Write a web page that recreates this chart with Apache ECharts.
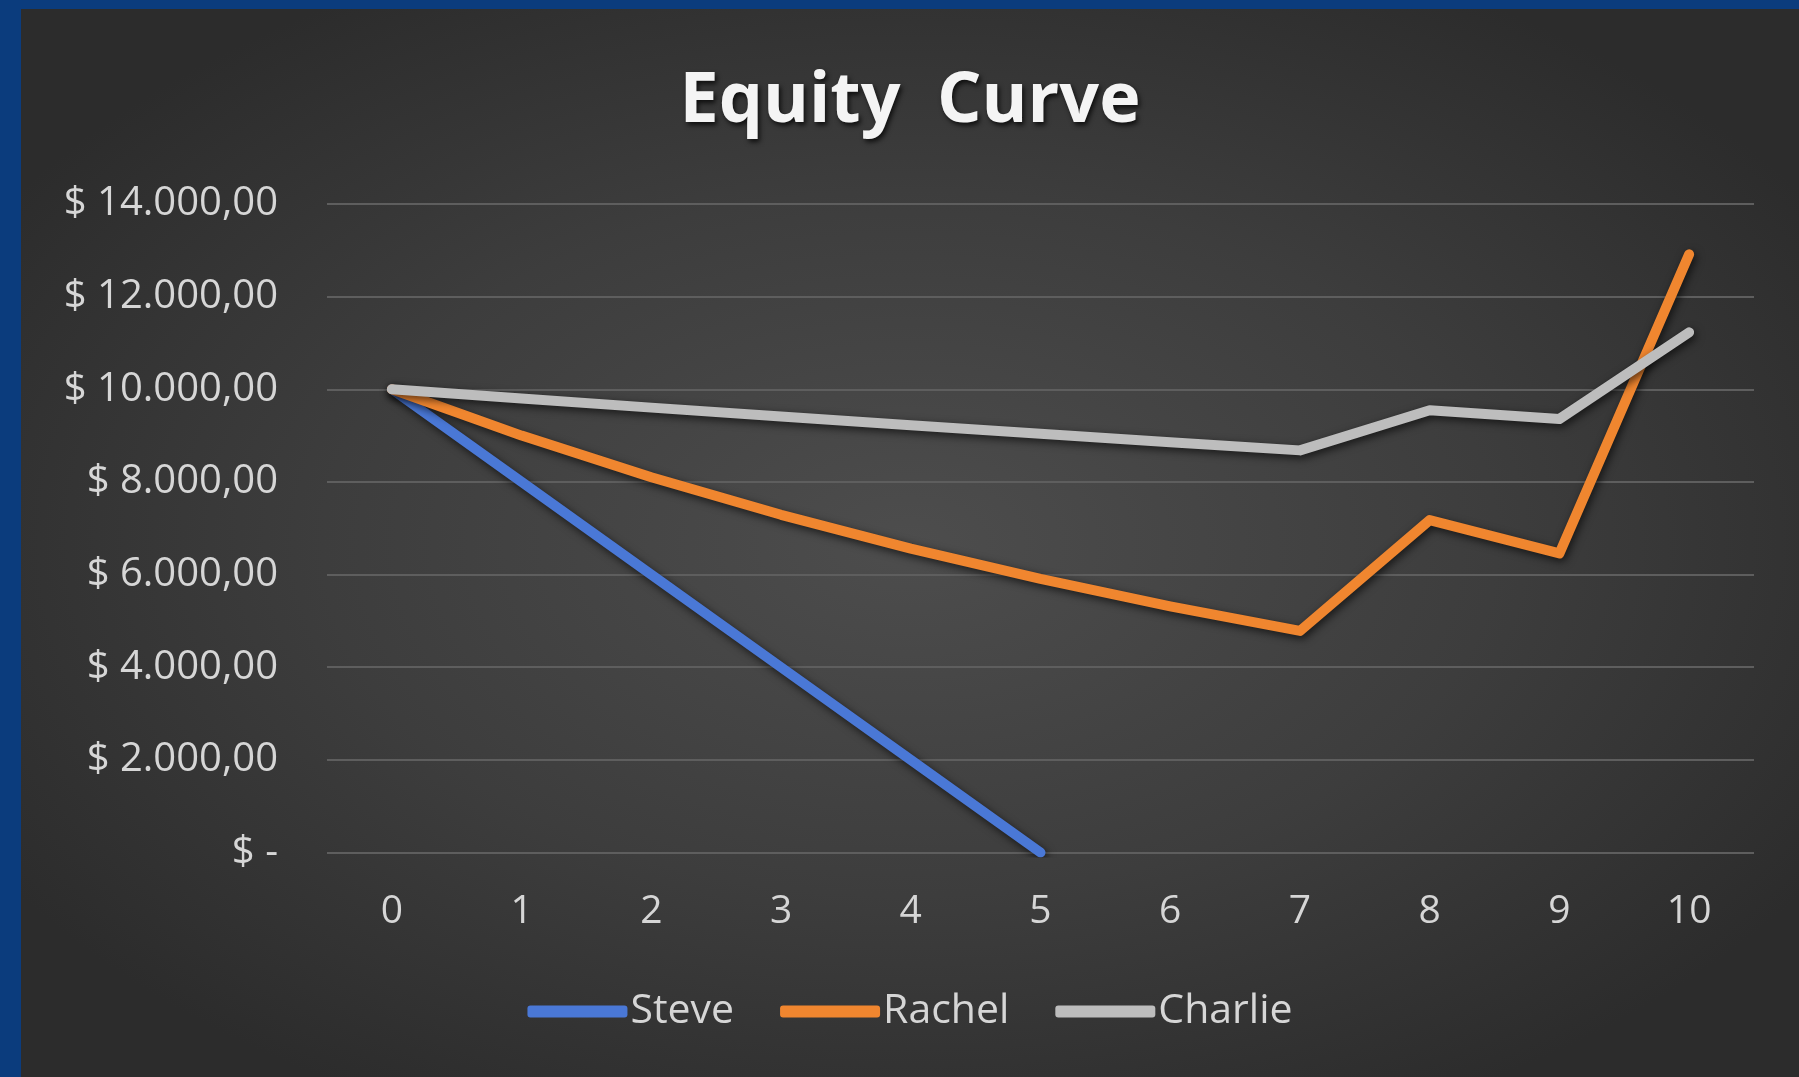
<!DOCTYPE html>
<html>
<head>
<meta charset="utf-8">
<script src="https://cdn.jsdelivr.net/npm/echarts@6/dist/echarts.min.js"></script>
<style>
  html, body { margin: 0; padding: 0; width: 1799px; height: 1077px; background: #0b3c7d; overflow: hidden; }
  #chart {
    position: absolute; left: 21px; top: 9px; width: 1778px; height: 1068px;
    background: radial-gradient(ellipse 60% 60% at 50% 50%, #4d4d4d 0%, #3d3d3d 55%, #2c2c2c 100%);
  }
</style>
</head>
<body>
<div id="chart"></div>
<script>
const titleText = 'Equity  Curve';
const categories = ['0', '1', '2', '3', '4', '5', '6', '7', '8', '9', '10'];
const steve = [10000, 8000, 6000, 4000, 2000, 0, null, null, null, null, null];
const rachel = [10000, 9000, 8100, 7290, 6561, 5905, 5314, 4783, 7175, 6457, 12914];
const charlie = [10000, 9800, 9604, 9412, 9224, 9039, 8858, 8681, 9549, 9358, 11230];
const seriesNames = ['Steve', 'Rachel', 'Charlie'];
const seriesColors = ['#4a78d6', '#f0862f', '#bdbdbd'];
const yMin = 0, yMax = 14000, yStep = 2000;

function fmtMoney(v) {
  if (v === 0) return '$ -';
  const s = Math.round(v).toString().replace(/\B(?=(\d{3})+(?!\d))/g, '.');
  return '$ ' + s + ',00';
}

const chart = echarts.init(document.getElementById('chart'), null, { renderer: 'canvas' });
const font = '"Open Sans", "Liberation Sans", sans-serif';
const mk = (name, data, color) => ({
  name: name,
  type: 'line',
  data: data,
  symbol: 'none',
  connectNulls: false,
  color: color,
  lineStyle: {
    width: 10, color: color, cap: 'round', join: 'round',
    shadowColor: 'rgba(0,0,0,0.65)', shadowBlur: 8, shadowOffsetX: 2, shadowOffsetY: 3
  }
});

chart.setOption({
  backgroundColor: 'transparent',
  animation: false,
  title: {
    text: titleText,
    left: 'center',
    top: 53,
    textStyle: {
      color: '#f4f4f4', fontFamily: font, fontWeight: 'bold', fontSize: 70,
      textShadowColor: 'rgba(0,0,0,0.75)', textShadowBlur: 5, textShadowOffsetX: 2, textShadowOffsetY: 3
    }
  },
  grid: { left: 306, right: 45, top: 195, bottom: 224.5, containLabel: false },
  xAxis: {
    type: 'category',
    data: categories,
    boundaryGap: true,
    axisLine: { show: false },
    axisTick: { show: false },
    axisLabel: { color: '#d6d6d6', fontFamily: font, fontSize: 39, margin: 40 }
  },
  yAxis: {
    type: 'value',
    min: yMin, max: yMax, interval: yStep,
    axisLine: { show: false },
    axisTick: { show: false },
    splitLine: { lineStyle: { color: '#5e5e5e', width: 2 } },
    axisLabel: { color: '#d6d6d6', fontFamily: font, fontSize: 40, margin: 49, formatter: fmtMoney }
  },
  legend: {
    data: seriesNames,
    bottom: 40,
    left: 'center',
    icon: 'roundRect',
    itemWidth: 100,
    itemHeight: 12,
    itemGap: 46,
    textStyle: { color: '#d6d6d6', fontFamily: font, fontSize: 41, padding: [0, 0, 0, -2] }
  },
  series: [
    mk(seriesNames[0], steve, seriesColors[0]),
    mk(seriesNames[1], rachel, seriesColors[1]),
    mk(seriesNames[2], charlie, seriesColors[2])
  ]
});
</script>
</body>
</html>
